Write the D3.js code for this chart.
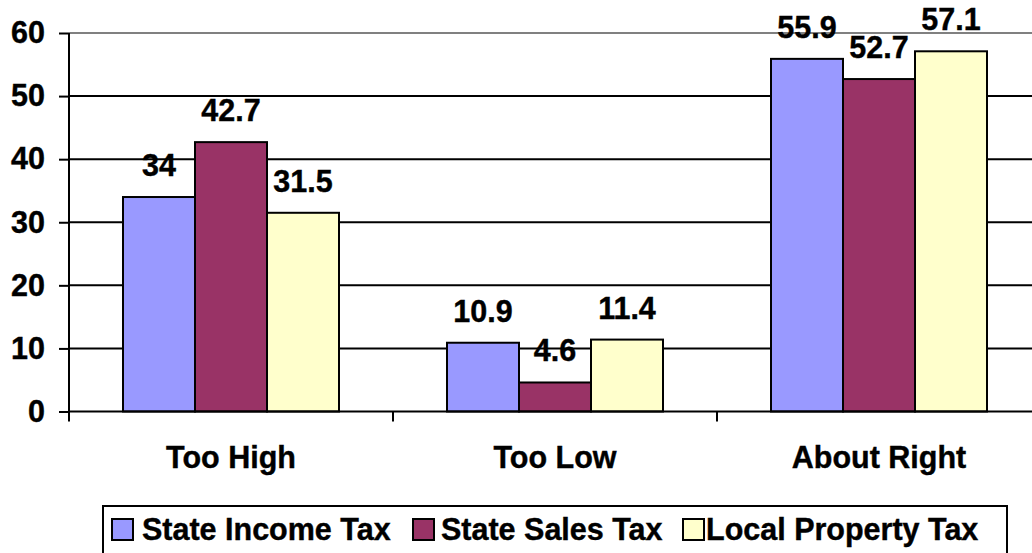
<!DOCTYPE html>
<html>
<head>
<meta charset="utf-8">
<script src="https://cdn.jsdelivr.net/npm/d3@7"></script>
<style>
  body { margin: 0; background: #fff; }
  text { font-family: "Liberation Sans", Arial, sans-serif; font-weight: bold; stroke: #000; stroke-width: 0.4px; }
</style>
</head>
<body>
<div id="chart"></div>
<script>
const categories = ["Too High", "Too Low", "About Right"];
const series = ["State Income Tax", "State Sales Tax", "Local Property Tax"];
const colors = ["#9999FF", "#993366", "#FFFFCC"];
const values = [
  [34, 10.9, 55.9],   // State Income Tax
  [42.7, 4.6, 52.7],  // State Sales Tax
  [31.5, 11.4, 57.1]  // Local Property Tax
];
const yTicks = [0, 10, 20, 30, 40, 50, 60];

const width = 1032, height = 553;
const plotLeft = 69, plotRight = 1041, plotTop = 33, plotBottom = 411.5;
const fs = 30.5;

const svg = d3.select("#chart").append("svg")
  .attr("width", width)
  .attr("height", height);

const y = d3.scaleLinear().domain([0, 60]).range([plotBottom, plotTop]);
const x0 = d3.scaleBand().domain(categories).range([plotLeft, plotRight])
  .paddingInner(1 / 3).paddingOuter(1 / 6);
const x1 = d3.scaleBand().domain(series).range([0, x0.bandwidth()]);

// gridlines
svg.append("g").selectAll("line")
  .data(yTicks.filter(t => t > 0))
  .enter().append("line")
  .attr("x1", plotLeft).attr("x2", width)
  .attr("y1", d => y(d)).attr("y2", d => y(d))
  .attr("stroke", d => d === 60 ? "#808080" : "#000")
  .attr("stroke-width", 2);

// y axis
const yAxis = svg.append("g")
  .attr("transform", `translate(${plotLeft},0)`)
  .call(d3.axisLeft(y).tickValues(yTicks).tickSize(10).tickPadding(14));
yAxis.select(".domain").attr("stroke-width", 2).attr("d", `M0,${plotTop}V${plotBottom}`);
yAxis.selectAll(".tick line").attr("stroke-width", 2);
yAxis.selectAll(".tick text")
  .attr("font-size", fs).attr("fill", "#000")
  .attr("font-family", "Liberation Sans, Arial, sans-serif")
  .attr("font-weight", "bold");

// bars
const groups = svg.append("g").selectAll("g")
  .data(categories)
  .enter().append("g")
  .attr("transform", d => `translate(${x0(d)},0)`);

groups.selectAll("rect")
  .data((c, ci) => series.map((s, si) => ({ s, si, v: values[si][ci] })))
  .enter().append("rect")
  .attr("x", d => x1(d.s))
  .attr("width", x1.bandwidth())
  .attr("y", d => y(d.v))
  .attr("height", d => y(0) - y(d.v))
  .attr("fill", d => colors[d.si])
  .attr("stroke", "#000")
  .attr("stroke-width", 2);

groups.selectAll("text.val")
  .data((c, ci) => series.map((s, si) => ({ s, si, v: values[si][ci] })))
  .enter().append("text")
  .attr("class", "val")
  .attr("x", d => x1(d.s) + x1.bandwidth() / 2)
  .attr("y", d => y(d.v) - 21)
  .attr("text-anchor", "middle")
  .attr("font-size", fs)
  .text(d => d.v);

// x axis
svg.append("line")
  .attr("x1", plotLeft).attr("x2", width)
  .attr("y1", plotBottom).attr("y2", plotBottom)
  .attr("stroke", "#000").attr("stroke-width", 2);

const bounds = categories.map(c => x0(c) - x0.step() * x0.paddingOuter());
bounds.push(plotRight);
svg.append("g").selectAll("line")
  .data(bounds)
  .enter().append("line")
  .attr("x1", d => d).attr("x2", d => d)
  .attr("y1", plotBottom).attr("y2", plotBottom + 10)
  .attr("stroke", "#000").attr("stroke-width", 2);

svg.append("g").selectAll("text")
  .data(categories)
  .enter().append("text")
  .attr("x", d => x0(d) + x0.bandwidth() / 2)
  .attr("y", 468)
  .attr("text-anchor", "middle")
  .attr("font-size", fs)
  .text(d => d);

// legend
const legend = svg.append("g");
legend.append("rect")
  .attr("x", 103).attr("y", 506)
  .attr("width", 904).attr("height", 60)
  .attr("fill", "#fff").attr("stroke", "#000").attr("stroke-width", 2);

const legendX = [112, 413, 683];
const items = legend.selectAll("g.item")
  .data(series)
  .enter().append("g")
  .attr("class", "item")
  .attr("transform", (d, i) => `translate(${legendX[i]},519)`);
items.append("rect")
  .attr("width", 21).attr("height", 21)
  .attr("fill", (d, i) => colors[i])
  .attr("stroke", "#000").attr("stroke-width", 2);
items.append("text")
  .attr("x", (d, i) => [30, 28, 23][i]).attr("y", 20.5)
  .attr("font-size", fs)
  .text(d => d);
</script>
</body>
</html>
